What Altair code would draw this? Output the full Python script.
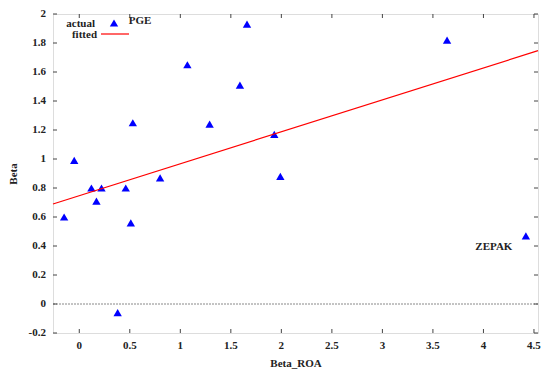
import altair as alt
import pandas as pd

# data
beta_roa = [-0.15, -0.05, 0.12, 0.17, 0.22, 0.38, 0.46, 0.51, 0.53, 0.80,
            1.07, 1.29, 1.59, 1.66, 1.93, 1.99, 3.64, 4.42]
beta = [0.60, 0.99, 0.80, 0.71, 0.80, -0.06, 0.80, 0.56, 1.25, 0.87,
        1.65, 1.24, 1.51, 1.93, 1.17, 0.88, 1.82, 0.47]
fit_x = [-0.26, 4.54]
fit_y = [0.69, 1.747]
label_text = ["PGE", "ZEPAK"]
label_x = [0.49, 3.92]
label_y = [1.95, 0.39]
x_ticks = [0, 0.5, 1, 1.5, 2, 2.5, 3, 3.5, 4, 4.5]
y_ticks = [-0.2, 0, 0.2, 0.4, 0.6, 0.8, 1, 1.2, 1.4, 1.6, 1.8, 2]

FONT = "Liberation Serif"
FS = 11
W, H = 485, 319
XDOM = [-0.26, 4.54]
YDOM = [-0.2, 2.0]

pts = pd.DataFrame({"x": beta_roa, "y": beta})
fit = pd.DataFrame({"x": fit_x, "y": fit_y})
labs = pd.DataFrame({"t": label_text, "x": label_x, "y": label_y})
xt = pd.DataFrame({"x": x_ticks, "t": [f"{v:g}" for v in x_ticks]})
yt = pd.DataFrame({"y": y_ticks, "t": [f"{v:g}" for v in y_ticks]})
zero = pd.DataFrame({"y": [0]})

xscale = alt.Scale(domain=XDOM, nice=False, zero=False)
yscale = alt.Scale(domain=YDOM, nice=False, zero=False)

common = dict(ticks=False, domain=False, grid=False, labels=False,
              titleBaseline="middle", titleFont=FONT, titleFontWeight="bold",
              titleFontSize=FS, titleColor="#222")
xaxis = alt.Axis(values=x_ticks, titleY=30, **common)
yaxis = alt.Axis(values=y_ticks, titleX=-40, **common)

X = lambda: alt.X("x:Q", scale=xscale, axis=xaxis, title="Beta_ROA")
Y = lambda: alt.Y("y:Q", scale=yscale, axis=yaxis, title="Beta")

txt = dict(font=FONT, fontWeight="bold", fontSize=FS, color="#222")

points = alt.Chart(pts).mark_point(shape="triangle-up", filled=True,
                                   color="#0000ff", size=70, opacity=1).encode(
    x=X(), y=Y())

line = alt.Chart(fit).mark_line(color="#ff0000", strokeWidth=1.2).encode(x=X(), y=Y())

zero_line = alt.Chart(zero).mark_rule(color="#888", strokeWidth=1,
                                       strokeDash=[2, 1]).encode(y=Y())

text = alt.Chart(labs).mark_text(align="left", baseline="middle", **txt).encode(
    x=X(), y=Y(), text="t:N")

# tick labels
xlab = alt.Chart(xt).mark_text(align="center", baseline="middle", **txt).encode(
    x=X(), y=alt.value(H + 13), text="t:N")
ylab = alt.Chart(yt).mark_text(align="right", baseline="middle", **txt).encode(
    y=Y(), x=alt.value(-7), text="t:N")

tk = dict(color="#444", strokeWidth=1)
xt_bot = alt.Chart(xt).mark_rule(**tk).encode(x=X(), y=alt.value(H), y2=alt.value(H - 4))
xt_top = alt.Chart(xt).mark_rule(**tk).encode(x=X(), y=alt.value(0), y2=alt.value(4))
yt_left = alt.Chart(yt).mark_rule(**tk).encode(y=Y(), x=alt.value(0), x2=alt.value(4))
yt_right = alt.Chart(yt).mark_rule(**tk).encode(y=Y(), x=alt.value(W), x2=alt.value(W - 4))

# legend
leg_actual = alt.Chart(pd.DataFrame({"t": ["actual"]})).mark_text(
    align="right", baseline="middle", **txt).encode(text="t:N", x=alt.value(42), y=alt.value(10))
leg_fitted = alt.Chart(pd.DataFrame({"t": ["fitted"]})).mark_text(
    align="right", baseline="middle", **txt).encode(text="t:N", x=alt.value(44), y=alt.value(21))
leg_tri = alt.Chart(pd.DataFrame({"t": ["actual"]})).mark_point(
    shape="triangle-up", filled=True, color="#0000ff", size=70, opacity=1).encode(
    x=alt.value(61), y=alt.value(9))
leg_line = alt.Chart(pd.DataFrame({"t": ["fitted"]})).mark_rule(
    color="#ff0000", strokeWidth=1.2).encode(
    x=alt.value(48), x2=alt.value(76), y=alt.value(20))

chart = alt.layer(points, zero_line, line, text, xlab, ylab,
                  xt_bot, xt_top, yt_left, yt_right,
                  leg_actual, leg_fitted, leg_tri, leg_line).properties(
    width=W, height=H, autosize="none",
    padding={"left": 45, "top": 6, "right": 4, "bottom": 40},
).configure_view(stroke="#333", strokeWidth=1).configure(background="white")

chart.save("out.html", embed_options={"renderer": "svg", "actions": False})
